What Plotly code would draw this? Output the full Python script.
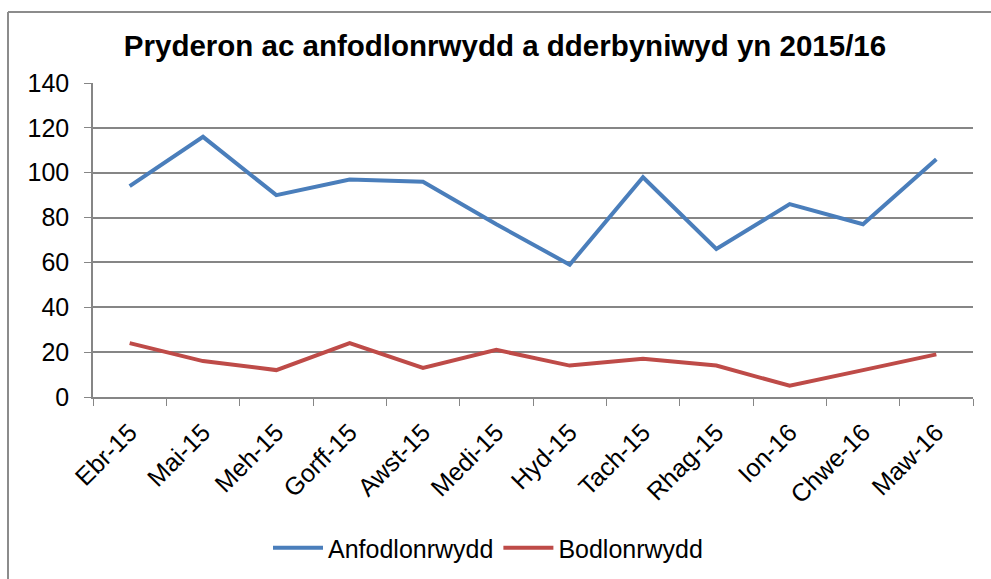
import plotly.graph_objects as go

months = ["Ebr-15", "Mai-15", "Meh-15", "Gorff-15", "Awst-15", "Medi-15",
          "Hyd-15", "Tach-15", "Rhag-15", "Ion-16", "Chwe-16", "Maw-16"]
anfodlonrwydd = [94, 116, 90, 97, 96, 77, 59, 98, 66, 86, 77, 106]
bodlonrwydd = [24, 16, 12, 24, 13, 21, 14, 17, 14, 5, 12, 19]
y_ticks = [0, 20, 40, 60, 80, 100, 120, 140]

FONT = "Liberation Sans, Arial, sans-serif"
GRID = "#868686"

fig = go.Figure()
fig.add_trace(go.Scatter(x=months, y=anfodlonrwydd, mode="lines", name="Anfodlonrwydd",
                         line=dict(color="#4a7ebb", width=4)))
fig.add_trace(go.Scatter(x=months, y=bodlonrwydd, mode="lines", name="Bodlonrwydd",
                         line=dict(color="#be4b48", width=4)))

L, R, T, B = 93, 18, 83, 182
W, H = 991, 579
pw = W - L - R
ph = H - T - B

fig.update_layout(
    width=W, height=H,
    margin=dict(l=L, r=R, t=T, b=B, autoexpand=False),
    paper_bgcolor="white", plot_bgcolor="white",
    font=dict(family=FONT, size=25, color="black"),
    title=dict(text="<b>Pryderon ac anfodlonrwydd a dderbyniwyd yn 2015/16</b>",
               x=505 / W, xanchor="center", y=1 - 46 / H, yanchor="middle",
               font=dict(size=29.5, family=FONT), automargin=False),
    showlegend=True,
    legend=dict(orientation="h", x=(488 - L) / pw, xanchor="center",
                y=-(548 - T - ph) / ph, yanchor="middle",
                font=dict(size=25, family=FONT), itemwidth=50,
                bgcolor="rgba(0,0,0,0)"),
    xaxis=dict(type="category", range=[-0.5, 11.5], tickangle=-45, showgrid=False,
               showline=True, linecolor=GRID, linewidth=1.5, automargin=False,
               ticks="outside", tickson="boundaries", ticklen=7, tickcolor=GRID,
               ticklabelstandoff=9,
               tickfont=dict(size=25, family=FONT), zeroline=False),
    yaxis=dict(range=[0, 140], tickvals=y_ticks, showgrid=True, gridcolor=GRID, gridwidth=1.5,
               showline=True, linecolor=GRID, linewidth=1.5, automargin=False,
               ticks="outside", ticklen=7, tickcolor=GRID, ticklabelstandoff=10,
               tickfont=dict(size=25, family=FONT), zeroline=False),
    shapes=[
        dict(type="line", xref="paper", yref="paper",
             x0=(8 - L) / pw, x1=(W + 5 - L) / pw, y0=1 + (T - 12) / ph, y1=1 + (T - 12) / ph,
             line=dict(color="#8c8c8c", width=2)),
        dict(type="line", xref="paper", yref="paper",
             x0=(8 - L) / pw, x1=(8 - L) / pw, y0=1 + (T - 12) / ph, y1=-(H + 5 - T - ph) / ph,
             line=dict(color="#8c8c8c", width=2)),
    ],
)

fig.write_html("out.html", config={"displayModeBar": False},
               post_script="document.body.style.margin='0';document.body.style.overflow='hidden';")
